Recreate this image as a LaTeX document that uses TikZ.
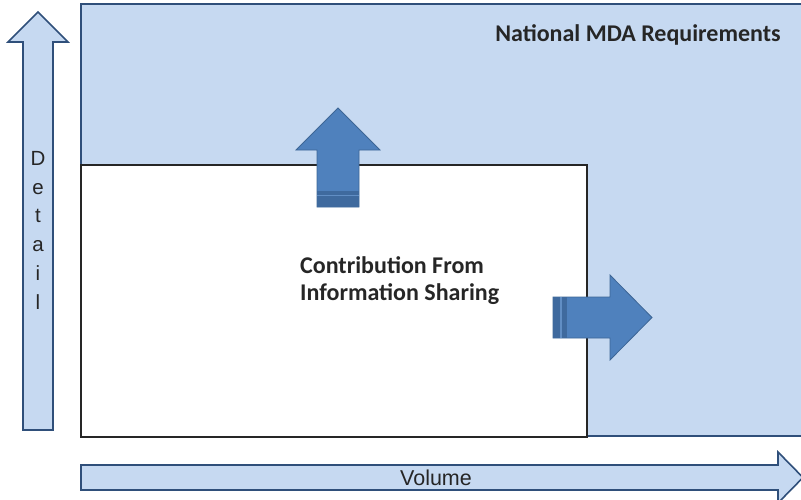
\documentclass[tikz,border=0pt]{standalone}
\usepackage{fontspec}
\setmainfont{Carlito}
\newfontfamily\arialfont{Liberation Sans}
\definecolor{lightb}{HTML}{C6D9F1}
\definecolor{edgeb}{HTML}{2F4F7A}
\definecolor{midb}{HTML}{4F81BD}
\definecolor{midbd}{HTML}{3D6696}
\definecolor{stripeb}{HTML}{3F6A9E}
\definecolor{frameb}{HTML}{262626}
\begin{document}
\begin{tikzpicture}[x=1pt,y=-1pt,
  lightarrow/.style={fill=lightb,draw=edgeb,line width=1.6pt,line join=miter},
  darkarrow/.style={fill=midb,draw=midbd,line width=0.8pt,line join=miter},
  lbl/.style={inner sep=0pt,text=black!85},
  boldlbl/.style={lbl,font=\fontsize{24}{27}\selectfont\bfseries}]
\useasboundingbox (0,0) rectangle (801,499);
\clip (0,0) rectangle (801,499);
% background requirements area
\draw[fill=lightb,draw=edgeb,line width=1.6pt] (81,4) rectangle (810,436);
% contribution box
\draw[fill=white,draw=frameb,line width=1.6pt] (81,165) rectangle (587,437);
% Detail axis arrow
\draw[lightarrow] (23,430) -- (23,42) -- (8,42) -- (38,12) -- (68,42) -- (53,42) -- (53,430) -- cycle;
% Volume axis arrow
\draw[lightarrow] (81,465) -- (778,465) -- (778,452) -- (803,477.5) -- (778,503) -- (778,490) -- (81,490) -- cycle;
% up arrow
\draw[darkarrow] (317,207) -- (317,150) -- (296,150) -- (338,108) -- (380,150) -- (359,150) -- (359,207) -- cycle;
\fill[stripeb] (317.4,191) rectangle (358.6,206.6);
\draw[midb!90,line width=1.2pt] (317.4,195.5) -- (358.6,195.5);
% right arrow
\draw[darkarrow] (553,297) -- (610,297) -- (610,275) -- (652,317.5) -- (610,360) -- (610,338) -- (553,338) -- cycle;
\fill[stripeb] (553.4,297.4) rectangle (567,337.6);
\draw[midb!90,line width=1.2pt] (561,297.4) -- (561,337.6);
% labels
\node[boldlbl,anchor=base] (req) at (638,41) {National MDA Requirements};
\node[boldlbl,anchor=base west] (contribA) at (300,273) {Contribution From};
\node[boldlbl,anchor=base west] (contribB) at (300,300) {Information Sharing};
\node[lbl,font=\arialfont\fontsize{20.5}{28.8}\selectfont,align=center,anchor=north] (detail) at (38,151) {D\\e\\t\\a\\i\\l};
\node[lbl,font=\arialfont\fontsize{21.5}{24}\selectfont,anchor=base] (vol) at (436,485) {Volume};
\end{tikzpicture}
\end{document}
